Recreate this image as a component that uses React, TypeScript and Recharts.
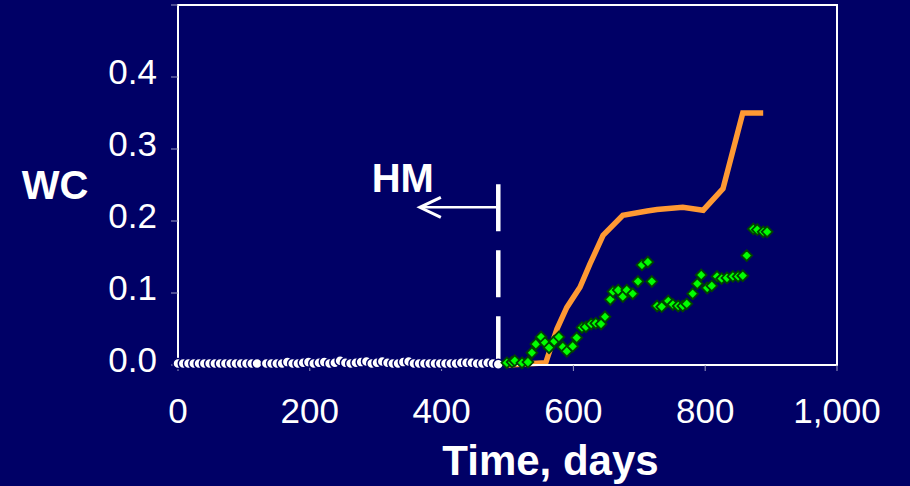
import React from "react"
import {
    ComposedChart, Scatter, Line, XAxis, YAxis, ReferenceLine, ReferenceArea
} from "recharts"

// history-matched period (white circles)
const historyDays = [
    0, 8, 16, 24, 32, 40, 48, 56, 64, 72, 80, 88, 96, 104, 112, 120,
    134, 142, 150, 158, 166, 174, 182, 190, 198, 206, 214, 222, 230, 238,
    246, 254, 262, 270, 278, 286, 294, 302, 310, 318, 326, 334, 342, 350,
    358, 366, 374, 382, 390, 398, 406, 414, 422, 430, 438, 446, 454, 462,
    470, 478, 486,
]
const historyWc = [
    0.002, 0.002, 0.002, 0.002, 0.002, 0.002, 0.002, 0.002, 0.002, 0.002, 0.002, 0.002, 0.002, 0.002, 0.002, 0.002,
    0.002, 0.002, 0.002, 0.002, 0.004, 0.002, 0.002, 0.003, 0.004, 0.002, 0.003, 0.004, 0.002, 0.003,
    0.006, 0.003, 0.002, 0.003, 0.004, 0.005, 0.002, 0.003, 0.005, 0.003, 0.002, 0.002, 0.004, 0.005,
    0.002, 0.002, 0.002, 0.002, 0.002, 0.002, 0.002, 0.002, 0.002, 0.003, 0.003, 0.003, 0.002, 0.002,
    0.003, 0.002, 0.001,
]

// observed after HM (green diamonds)
const obsDays = [
    499, 507, 511, 522, 531, 537, 543, 551, 557, 563, 571, 578, 584, 590, 599, 605,
    613, 619, 627, 634, 642, 648, 656, 660, 668, 675, 681, 690, 698, 704, 713, 719,
    727, 734, 744, 751, 759, 766, 772, 781, 788, 794, 803, 810, 818, 825, 833, 842,
    850, 857, 863, 873, 879, 888, 894,
]
const obsWc = [
    0.003, 0.004, 0.006, 0.003, 0.004, 0.017, 0.029, 0.039, 0.031, 0.024, 0.033, 0.039, 0.025, 0.019, 0.026, 0.038,
    0.052, 0.053, 0.057, 0.058, 0.057, 0.067, 0.091, 0.102, 0.104, 0.095, 0.104, 0.099, 0.116, 0.139, 0.143, 0.116,
    0.082, 0.081, 0.089, 0.084, 0.082, 0.082, 0.085, 0.099, 0.113, 0.125, 0.107, 0.110, 0.123, 0.120, 0.121, 0.123,
    0.123, 0.124, 0.152, 0.189, 0.188, 0.185, 0.185,
]

// prediction (orange line)
const predDays = [500, 558, 575, 590, 610, 625, 645, 675, 712, 727, 766, 797, 827, 857, 888]
const predWc = [0, 0.003, 0.05, 0.08, 0.108, 0.14, 0.18, 0.208, 0.214, 0.216, 0.219, 0.215, 0.245, 0.35, 0.35]

const xTicks = [0, 200, 400, 600, 800, 1000]
const yTicks = [0, 0.1, 0.2, 0.3, 0.4, 0.5]

const hmDay = 486
const arrowEndDay = 367
const arrowWc = 0.219
const dashTopWc = 0.251

const BG = "#000066"
const FONT = "'Liberation Sans', Arial, sans-serif"

const historyData = historyDays.map((d, i) => ({ day: d, wc: historyWc[i] }))
const obsData = obsDays.map((d, i) => ({ day: d, wc: obsWc[i] }))
const predData = predDays.map((d, i) => ({ day: d, wc: predWc[i] }))

const WhiteCircle = (p: any) => (
    <circle cx={p.cx} cy={p.cy} r={5} fill="#ffffff" stroke={BG} strokeWidth={1.5} />
)

const Diamond = (p: any) => {
    const s = 5.4
    return (
        <path
            d={`M${p.cx},${p.cy - s}L${p.cx + s},${p.cy}L${p.cx},${p.cy + s}L${p.cx - s},${p.cy}Z`}
            fill="#00ff00"
            stroke="#004400"
            strokeWidth={1.8}
        />
    )
}

const XTick = (p: any) => (
    <text x={p.x} y={p.y} dy={25} textAnchor="middle" fill="#fff" fontSize={35} fontFamily={FONT}>
        {p.payload.value.toLocaleString("en-US")}
    </text>
)

const YTick = (p: any) => (
    <text x={p.x} y={p.y} dy={7} textAnchor="end" fill="#fff" fontSize={35} fontFamily={FONT}>
        {p.payload.value >= 0.5 ? "" : p.payload.value.toFixed(1)}
    </text>
)

const Arrow = (p: any) => {
    const { x1, y1, x2, y2 } = p
    const tip = Math.min(x1, x2)
    const tail = Math.max(x1, x2)
    return (
        <g>
            <line x1={tail} y1={y1} x2={tip + 2} y2={y2} stroke="#fff" strokeWidth={2.5} />
            <path
                d={`M${tip + 21},${y1 - 10}L${tip},${y1}L${tip + 21},${y1 + 10}`}
                fill="none"
                stroke="#fff"
                strokeWidth={3}
            />
            <text x={tip - 17} y={y1 - 15} textAnchor="middle" fill="#fff" fontSize={40} fontWeight="bold" fontFamily={FONT}>
                HM
            </text>
        </g>
    )
}

export default function App() {
    return (
        <div style={{ position: "absolute", left: 0, top: 0, width: 910, height: 486, background: BG }}>
            <ComposedChart width={910} height={486} margin={{ top: 5, right: 73, bottom: 0, left: 0 }}>
                <XAxis
                    type="number"
                    dataKey="day"
                    domain={[0, 1000]}
                    ticks={xTicks}
                    height={121}
                    tickSize={6}
                    tickMargin={27}
                    axisLine={{ stroke: "#fff", strokeWidth: 2 }}
                    tickLine={{ stroke: "#9a9ac0" }}
                    tick={<XTick />}
                    label={{
                        content: (props: any) => {
                            const vb = props.viewBox
                            return (
                                <text x={vb.x + vb.width / 2 + 43} y={vb.y + 110} textAnchor="middle" fill="#fff"
                                    fontSize={42} fontWeight="bold" fontFamily={FONT}>
                                    Time, days
                                </text>
                            )
                        },
                    }}
                />
                <YAxis
                    type="number"
                    domain={[0, 0.5]}
                    ticks={yTicks}
                    width={178}
                    tickSize={7}
                    tickMargin={14}
                    axisLine={{ stroke: "#fff", strokeWidth: 2 }}
                    tickLine={{ stroke: "#9a9ac0" }}
                    tick={<YTick />}
                    label={{
                        content: () => (
                            <text x={55} y={199} textAnchor="middle" fill="#fff" fontSize={40} fontWeight="bold" fontFamily={FONT}>
                                WC
                            </text>
                        ),
                    }}
                />
                <ReferenceArea x1={0} x2={1000} y1={0} y2={0.5} fill="none" stroke="#fff" strokeWidth={2} />
                <ReferenceLine
                    segment={[{ x: hmDay, y: dashTopWc }, { x: hmDay, y: 0 }]}
                    stroke="#fff"
                    strokeWidth={4.5}
                    strokeDasharray="47 19"
                />
                <ReferenceLine
                    segment={[{ x: hmDay, y: arrowWc }, { x: arrowEndDay, y: arrowWc }]}
                    shape={<Arrow />}
                />
                <Scatter data={historyData} dataKey="wc" shape={<WhiteCircle />} isAnimationActive={false} />
                <Line
                    data={predData}
                    dataKey="wc"
                    type="linear"
                    stroke="#ff9933"
                    strokeWidth={5.5}
                    dot={false}
                    activeDot={false}
                    isAnimationActive={false}
                />
                <Scatter data={obsData} dataKey="wc" shape={<Diamond />} isAnimationActive={false} />
            </ComposedChart>
        </div>
    )
}
